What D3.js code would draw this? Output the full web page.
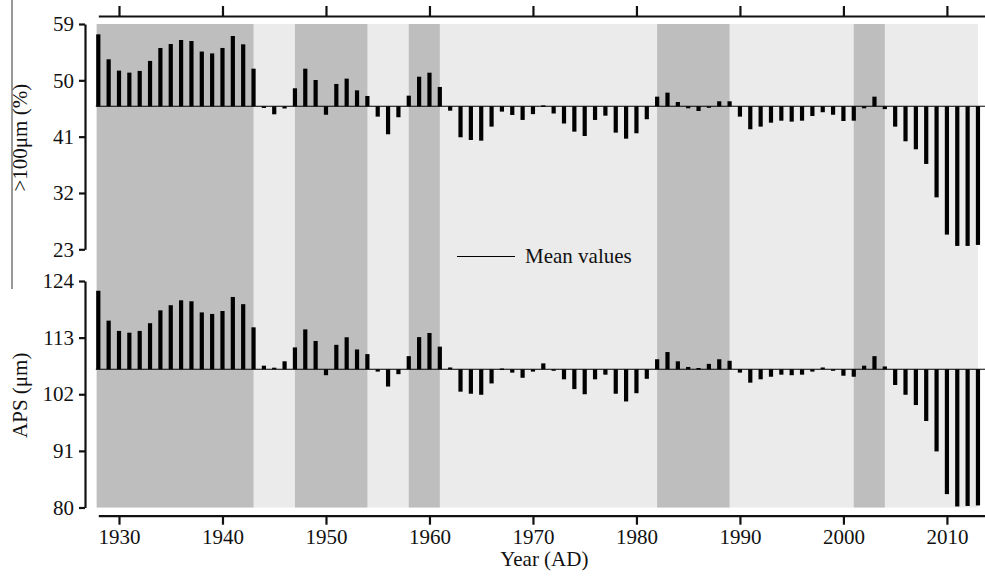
<!DOCTYPE html>
<html>
<head>
<meta charset="utf-8">
<script src="https://cdn.jsdelivr.net/npm/d3@7"></script>
<style>
  html, body { margin: 0; padding: 0; background: #fff; }
  svg { display: block; }
  text { font-family: "Liberation Serif", "Times New Roman", serif; fill: #111; }
</style>
</head>
<body>
<svg id="chart" width="985" height="579"></svg>
<script>
const years = d3.range(1928, 2014);
const coarseFraction = [
  57.35, 53.36, 51.55, 51.23, 51.5, 53.1, 55.17, 55.8, 56.44, 56.28,
  54.6, 54.3, 55.17, 57.08, 55.75, 51.86, 45.58, 44.57, 45.5, 48.73,
  51.86, 50.05, 44.5, 49.42, 50.27, 48.4, 47.5, 44.2, 41.38, 44.1,
  47.55, 50.58, 51.22, 48.94, 45.15, 40.9, 40.47, 40.36, 42.6, 45.0,
  44.46, 43.67, 44.6, 46.0, 44.7, 43.1, 41.8, 41.1, 43.67, 44.35,
  41.64, 40.68, 41.54, 43.78, 47.39, 48.03, 46.54, 45.53, 45.1, 45.7,
  46.65, 46.65, 44.2, 42.18, 42.6, 43.23, 43.55, 43.4, 43.55, 44.3,
  44.9, 44.5, 43.5, 43.55, 45.53, 47.39, 45.4, 42.6, 40.26, 38.98,
  36.64, 31.3, 25.35, 23.54, 23.54, 23.7
];
const aps = [
  122.1, 116.3, 114.3, 113.96, 114.3, 115.8, 118.3, 119.3, 120.25, 120.06,
  117.9, 117.6, 118.17, 120.9, 119.5, 115.0, 107.55, 107.16, 108.4, 111.1,
  114.6, 112.35, 105.7, 111.6, 113.07, 110.7, 109.8, 106.4, 103.5, 105.9,
  109.4, 113.1, 113.9, 111.25, 107.2, 102.5, 102.1, 101.9, 104.1, 107.0,
  106.2, 105.2, 106.4, 108.0, 106.6, 104.9, 103.0, 102.0, 104.9, 105.8,
  102.1, 100.6, 102.2, 105.0, 108.8, 110.2, 108.4, 107.3, 107.1, 107.9,
  108.8, 108.5, 106.2, 104.25, 104.9, 105.4, 105.8, 105.7, 105.8, 106.4,
  107.2, 106.6, 105.6, 105.4, 107.55, 109.4, 107.4, 103.8, 101.9, 99.9,
  96.8, 90.9, 82.6, 80.2, 80.3, 80.4
];
const meanCoarse = 45.85;
const meanAps = 106.85;
const shadedPeriods = [[1928, 1943], [1947, 1954], [1958, 1961], [1982, 1989], [2001, 2004]];
const xTicks = [1930, 1940, 1950, 1960, 1970, 1980, 1990, 2000, 2010];
const topTicks = [23, 32, 41, 50, 59];
const bottomTicks = [80, 91, 102, 113, 124];

const svg = d3.select("#chart");
const x = d3.scaleLinear().domain([1928, 2013.68]).range([98.3, 985]);
const yTop = d3.scaleLinear().domain([23, 59]).range([249.3, 24]);
const yBot = d3.scaleLinear().domain([80, 124]).range([507.5, 281]);

// stray vertical rule at far left (from original figure)
svg.append("line").attr("x1", 12).attr("x2", 12).attr("y1", 0).attr("y2", 289)
  .attr("stroke", "#555").attr("stroke-width", 1.2);

// backgrounds
svg.append("rect")
  .attr("x", x(1928) - 1.6).attr("y", yTop(59))
  .attr("width", x(2013) - x(1928) + 1.6).attr("height", yBot(80) - yTop(59))
  .attr("fill", "#ebebeb");
svg.selectAll("rect.shade").data(shadedPeriods).join("rect")
  .attr("class", "shade")
  .attr("x", d => x(d[0]) - (d[0] === 1928 ? 1.6 : 0)).attr("y", yTop(59))
  .attr("width", d => x(d[1]) - x(d[0]) + (d[0] === 1928 ? 1.6 : 0))
  .attr("height", yBot(80) - yTop(59))
  .attr("fill", "#bebebe");

// bars
const bw = 4.2;
function drawBars(vals, y, mean) {
  svg.append("g").selectAll("rect").data(vals).join("rect")
    .attr("x", (d, i) => x(years[i]) - bw / 2)
    .attr("y", d => Math.min(y(d), y(mean)))
    .attr("width", bw)
    .attr("height", d => Math.max(1.5, Math.abs(y(d) - y(mean))))
    .attr("fill", "#000");
  svg.append("line")
    .attr("x1", x(1928) - 2.5).attr("x2", x.range()[1])
    .attr("y1", y(mean)).attr("y2", y(mean))
    .attr("stroke", "#000").attr("stroke-width", 1.1);
}
drawBars(coarseFraction, yTop, meanCoarse);
drawBars(aps, yBot, meanAps);

function styleAxis(g) {
  g.selectAll("path.domain").attr("stroke", "#111").attr("stroke-width", 2.2);
  g.selectAll(".tick line").attr("stroke", "#111").attr("stroke-width", 2.2);
  g.selectAll(".tick text").attr("font-family", "Liberation Serif, Times New Roman, serif")
    .attr("font-size", 21).attr("fill", "#111");
}

// top axis (ticks only)
svg.append("g").attr("transform", "translate(0,16)")
  .call(d3.axisTop(x).tickValues(xTicks).tickFormat("").tickSize(10).tickSizeOuter(0))
  .call(styleAxis);

// bottom axis
svg.append("g").attr("transform", "translate(0,515.7)")
  .call(d3.axisBottom(x).tickValues(xTicks).tickFormat(d3.format("d")).tickSize(9).tickSizeOuter(0).tickPadding(4))
  .call(styleAxis);

// left axes
svg.append("g").attr("transform", "translate(85,0)")
  .call(d3.axisLeft(yTop).tickValues(topTicks).tickSize(6).tickSizeOuter(0).tickPadding(5))
  .call(styleAxis);
svg.append("g").attr("transform", "translate(85,0)")
  .call(d3.axisLeft(yBot).tickValues(bottomTicks).tickSize(6).tickSizeOuter(0).tickPadding(5))
  .call(styleAxis);

// axis titles
svg.append("text")
  .attr("transform", `translate(27,${(yTop(59) + yTop(23)) / 2 + 1}) rotate(-90)`)
  .attr("text-anchor", "middle").attr("font-size", 21)
  .text(">100μm (%)");
svg.append("text")
  .attr("transform", `translate(27,${(yBot(124) + yBot(80)) / 2 + 1}) rotate(-90)`)
  .attr("text-anchor", "middle").attr("font-size", 21)
  .text("APS (μm)");
svg.append("text")
  .attr("x", (x(1970) + x(1972)) / 2 + 1).attr("y", 566)
  .attr("text-anchor", "middle").attr("font-size", 21)
  .text("Year (AD)");

// legend
svg.append("line").attr("x1", 457).attr("x2", 515).attr("y1", 256.5).attr("y2", 256.5)
  .attr("stroke", "#000").attr("stroke-width", 1.1);
svg.append("text").attr("x", 525).attr("y", 263).attr("font-size", 21).text("Mean values");
</script>
</body>
</html>
